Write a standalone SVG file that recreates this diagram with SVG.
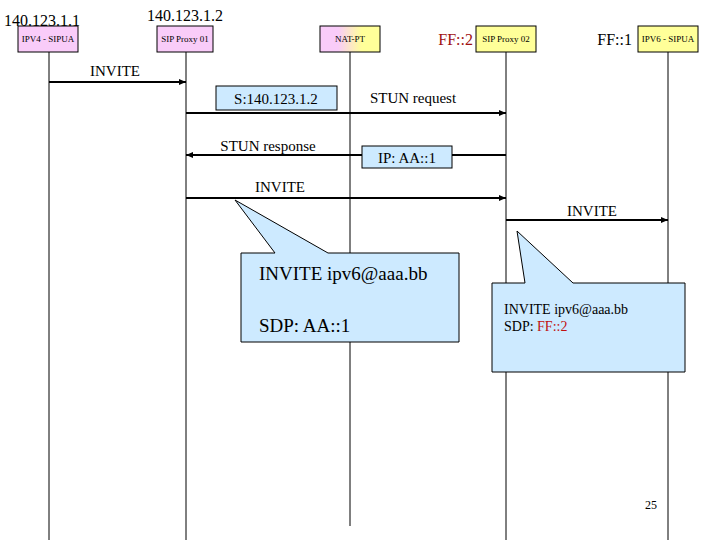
<svg xmlns="http://www.w3.org/2000/svg" width="720" height="540" viewBox="0 0 720 540">
<style>
text{font-family:"Liberation Serif",serif;fill:#000}
.life{stroke:#000;stroke-width:1}
.msg{stroke:#000;stroke-width:2;fill:none;marker-end:url(#ah)}
.pink{fill:#f9ccf9;stroke:#000}
.yel{fill:#ffff99;stroke:#000}
.blue{fill:#cdeaff;stroke:#000}
.sm{font-size:9px}
</style>
<defs>
<marker id="ah" markerWidth="8" markerHeight="8" refX="7" refY="4" orient="auto" markerUnits="userSpaceOnUse"><path d="M0,1L7,4L0,7z" fill="#000"/></marker>
<linearGradient id="g" x1="0" x2="1"><stop offset="0.3" stop-color="#f9ccf9"/><stop offset="0.7" stop-color="#ffff99"/></linearGradient>
</defs>
<g id="lifelines">
<line class="life" x1="49" y1="52" x2="49" y2="540"/>
<line class="life" x1="186" y1="52" x2="186" y2="540"/>
<line class="life" x1="350" y1="52" x2="350" y2="526"/>
<line class="life" x1="506" y1="52" x2="506" y2="540"/>
<line class="life" x1="668" y1="52" x2="668" y2="540"/>
</g>
<g id="n1"><text x="4" y="26" font-size="16">140.123.1.1</text><rect class="pink" x="18" y="26" width="60" height="26"/><text class="sm" x="48" y="42" text-anchor="middle">IPV4 - SIPUA</text></g>
<g id="n2"><text x="147" y="21" font-size="16">140.123.1.2</text><rect class="pink" x="157" y="26" width="56" height="26"/><text class="sm" x="185" y="42" text-anchor="middle">SIP Proxy 01</text></g>
<g id="n3"><rect x="320" y="26" width="60" height="26" fill="url(#g)" stroke="#000"/><text class="sm" x="350" y="42" text-anchor="middle">NAT-PT</text></g>
<g id="n4"><text x="473" y="45" font-size="16" text-anchor="end" style="fill:#a01010">FF::2</text><rect class="yel" x="476" y="26" width="60" height="26"/><text class="sm" x="506" y="42" text-anchor="middle">SIP Proxy 02</text></g>
<g id="n5"><text x="632" y="45" font-size="16" text-anchor="end">FF::1</text><rect class="yel" x="638" y="26" width="60" height="26"/><text class="sm" x="668" y="42" text-anchor="middle">IPV6 - SIPUA</text></g>
<g id="connectors">
<line class="msg" x1="49" y1="82" x2="186" y2="82"/>
<line class="msg" x1="186" y1="113" x2="506" y2="113"/>
<line class="msg" x1="506" y1="155" x2="186" y2="155"/>
<line class="msg" x1="186" y1="198" x2="506" y2="198"/>
<line class="msg" x1="506" y1="220" x2="668" y2="220"/>
</g>
<g id="labels" font-size="14">
<text x="115" y="76" text-anchor="middle" font-size="15">INVITE</text>
<rect class="blue" x="216" y="86" width="121" height="24"/>
<text x="276" y="104" text-anchor="middle" font-size="15">S:140.123.1.2</text>
<text x="413" y="103" text-anchor="middle" font-size="15">STUN request</text>
<text x="268" y="151" text-anchor="middle" font-size="15">STUN response</text>
<rect class="blue" x="362" y="146" width="90" height="22"/>
<text x="407" y="163" text-anchor="middle" font-size="15">IP: AA::1</text>
<text x="280" y="192" text-anchor="middle" font-size="15">INVITE</text>
<text x="592" y="216" text-anchor="middle" font-size="15">INVITE</text>
</g>
<g id="callout1">
<path class="blue" d="M241,253H275L235,200L328,253H459V342H241Z"/>
<text x="259" y="280" font-size="19">INVITE ipv6@aaa.bb</text>
<text x="259" y="332" font-size="19">SDP:  AA::1</text>
</g>
<g id="callout2">
<path class="blue" d="M492,283H525L517,231L573,283H685V372H492Z"/>
<text x="504" y="314" font-size="14">INVITE ipv6@aaa.bb</text>
<text x="504" y="331" font-size="14">SDP:  <tspan style="fill:#c01010">FF::2</tspan></text>
</g>
<text x="651" y="509" font-size="12" text-anchor="middle">25</text>
</svg>
